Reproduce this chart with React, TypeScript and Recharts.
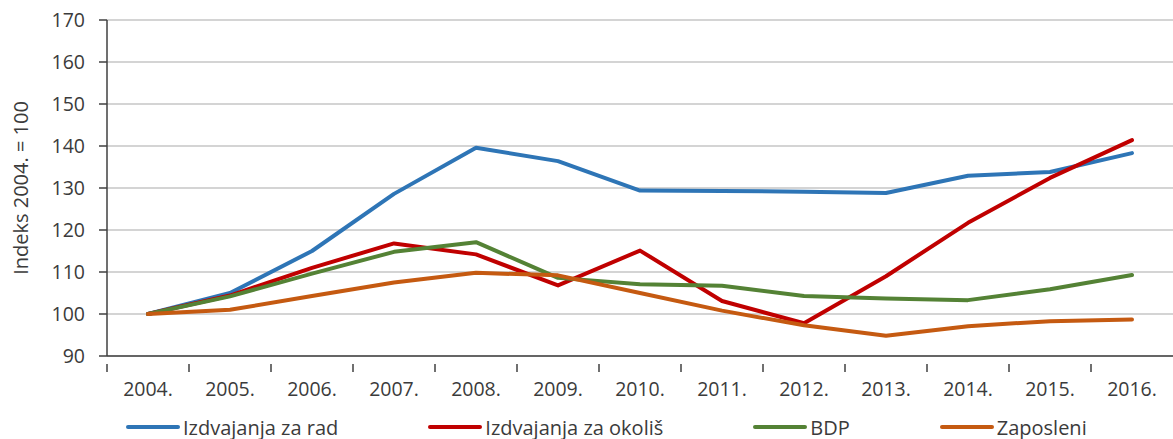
import { LineChart, Line, XAxis, YAxis, CartesianGrid, Legend } from "recharts";

const years = ["2004.", "2005.", "2006.", "2007.", "2008.", "2009.", "2010.", "2011.", "2012.", "2013.", "2014.", "2015.", "2016."];
const rad = [100, 105, 115, 128.6, 139.6, 136.4, 129.4, 129.3, 129.1, 128.8, 132.9, 133.8, 138.3];
const okolis = [100, 104.4, 111, 116.8, 114.2, 106.8, 115.1, 103.1, 97.8, 109, 121.7, 132.4, 141.4];
const bdp = [100, 104.2, 109.6, 114.8, 117.1, 108.6, 107.1, 106.7, 104.3, 103.7, 103.3, 105.9, 109.3];
const zaposleni = [100, 101, 104.3, 107.5, 109.8, 109.2, 105, 100.8, 97.3, 94.8, 97.1, 98.3, 98.7];
const yTicks = [90, 100, 110, 120, 130, 140, 150, 160, 170];

const seriesList = [
  { key: "rad", name: "Izdvajanja za rad", color: "#2E75B6" },
  { key: "okolis", name: "Izdvajanja za okoliš", color: "#C00000" },
  { key: "bdp", name: "BDP", color: "#548235" },
  { key: "zaposleni", name: "Zaposleni", color: "#C55A11" },
];

const data = years.map((year, i) => ({
  year,
  rad: rad[i],
  okolis: okolis[i],
  bdp: bdp[i],
  zaposleni: zaposleni[i],
}));

const WIDTH = 1173;
const HEIGHT = 439;
const Y_AXIS_W = 107;
const BAND = (WIDTH - Y_AXIS_W) / years.length;
const FONT = "'Open Sans', sans-serif";
const FONT_SIZE = 19.5;
const TEXT = "#3b3b3b";
const AXIS = "#404040";

const YearTick = (props: any) => {
  const { x, y, payload } = props;
  const left = x - BAND / 2;
  return (
    <g>
      <line x1={left} y1={y} x2={left} y2={y + 8} stroke={AXIS} strokeWidth={1.5} />
      <text x={x} y={y + 32} textAnchor="middle" fill={TEXT} fontSize={FONT_SIZE} fontFamily={FONT}>
        {payload.value}
      </text>
    </g>
  );
};

const LegendRow = () => (
  <div style={{ display: "flex", gap: 90, paddingLeft: 126, height: 30, alignItems: "center", position: "relative", top: 3, fontFamily: FONT, fontSize: 20, color: TEXT }}>
    {seriesList.map((s) => (
      <div key={s.key} style={{ display: "flex", alignItems: "center" }}>
        <span style={{ display: "inline-block", width: 54, height: 4, borderRadius: 2, background: s.color, marginRight: 3 }} />
        <span>{s.name}</span>
      </div>
    ))}
  </div>
);

export default function App() {
  return (
    <div style={{ position: "absolute", left: 0, top: 0, background: "#fff" }}>
      <LineChart width={WIDTH} height={HEIGHT} data={data} margin={{ top: 20, right: 0, left: 0, bottom: 0 }}>
        <CartesianGrid vertical={false} stroke="#c6c6c6" strokeWidth={1.5} />
        <XAxis
          dataKey="year"
          scale="band"
          height={53}
          tickLine={false}
          axisLine={{ stroke: AXIS, strokeWidth: 1.5 }}
          tick={<YearTick />}
          interval={0}
        />
        <YAxis
          width={Y_AXIS_W}
          domain={[90, 170]}
          ticks={yTicks}
          interval={0}
          tickSize={8}
          tickMargin={14}
          tickLine={{ stroke: AXIS, strokeWidth: 1.5 }}
          axisLine={{ stroke: AXIS, strokeWidth: 1.5 }}
          tick={{ fill: TEXT, fontSize: FONT_SIZE, fontFamily: FONT }}
          label={{
            value: "Indeks 2004. = 100",
            angle: -90,
            position: "insideLeft",
            offset: 21,
            style: { textAnchor: "middle", fill: TEXT, fontSize: 20, fontFamily: FONT },
          }}
        />
        <Legend verticalAlign="bottom" content={() => <LegendRow />} />
        {seriesList.map((s) => (
          <Line
            key={s.key}
            type="linear"
            dataKey={s.key}
            name={s.name}
            stroke={s.color}
            strokeWidth={4}
            strokeLinecap="round"
            strokeLinejoin="round"
            dot={false}
            isAnimationActive={false}
          />
        ))}
      </LineChart>
    </div>
  );
}
